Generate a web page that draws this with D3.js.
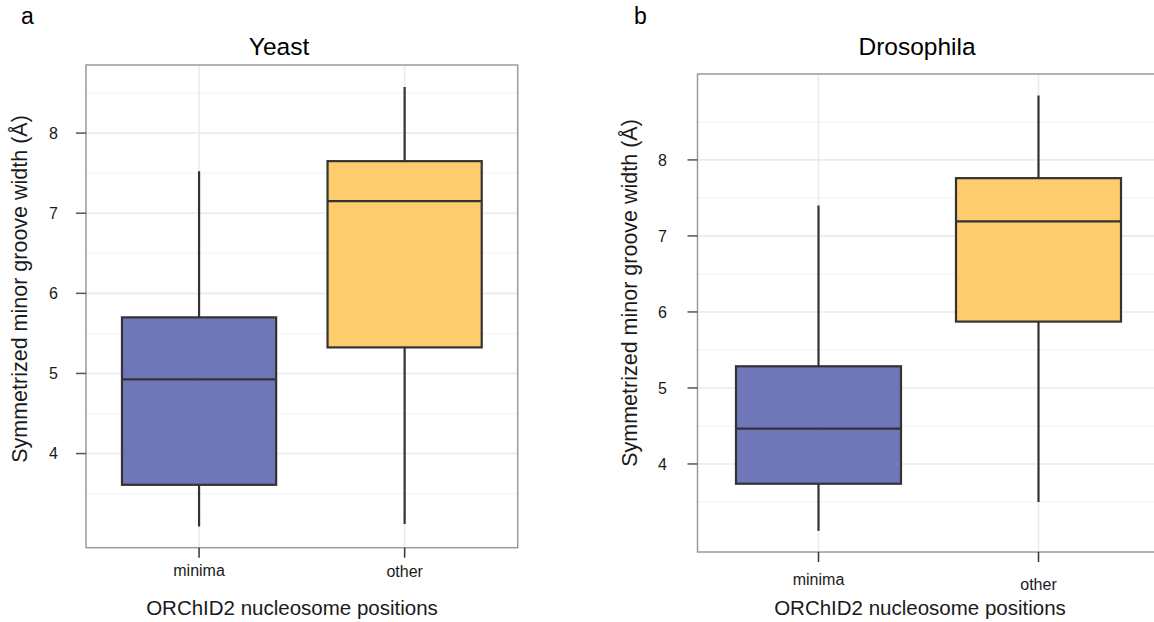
<!DOCTYPE html>
<html>
<head>
<meta charset="utf-8">
<script src="https://cdn.jsdelivr.net/npm/d3@7"></script>
<style>
  html, body { margin: 0; padding: 0; background: #fff; }
  svg { display: block; font-family: "Liberation Sans", Arial, Helvetica, sans-serif; }
</style>
</head>
<body>
<svg id="chart" width="1154" height="622"></svg>
<script>
// ---- data ----
const categories = ["minima", "other"];
const yTicks = [4, 5, 6, 7, 8];
const panelLetters = ["a", "b"];
const panelTitles = ["Yeast", "Drosophila"];
const xAxisTitle = "ORChID2 nucleosome positions";
const yAxisTitle = "Symmetrized minor groove width (Å)";
// box stats: [lower whisker, Q1, median, Q3, upper whisker]
const yeastMinima = [3.09, 3.61, 4.925, 5.70, 7.525];
const yeastOther = [3.12, 5.325, 7.15, 7.65, 8.575];
const drosMinima = [3.12, 3.74, 4.465, 5.285, 7.40];
const drosOther = [3.50, 5.873, 7.19, 7.76, 8.846];
const fills = ["#6770b4", "#fdc964"];

const panels = [
  { letter: panelLetters[0], title: panelTitles[0], stats: [yeastMinima, yeastOther],
    left: 86, right: 517.7, top: 65, bottom: 547.7, ydom: [2.825, 8.85],
    titleX: 279, letterX: 21, yTitleX: 27, yTitleY: 289, xTitleX: 292, xTitleY: 615,
    tickLabelRight: 58, xLabelY: [576, 577] },
  { letter: panelLetters[1], title: panelTitles[1], stats: [drosMinima, drosOther],
    left: 697.5, right: 1159.5, top: 74, bottom: 552, ydom: [2.842, 9.13],
    titleX: 917, letterX: 634, yTitleX: 637, yTitleY: 293, xTitleX: 920, xTitleY: 615,
    tickLabelRight: 667, xLabelY: [585, 590] }
];

const svg = d3.select("#chart");

panels.forEach(p => {
  const g = svg.append("g");
  const x = d3.scalePoint().domain(categories).range([p.left, p.right]).padding(0.55);
  const y = d3.scaleLinear().domain(p.ydom).range([p.bottom, p.top]);
  const step = x.step();
  const bw = step * 0.75;

  const clipId = "clip-" + p.letter;
  svg.append("clipPath").attr("id", clipId).append("rect")
    .attr("x", p.left).attr("y", p.top).attr("width", p.right - p.left).attr("height", p.bottom - p.top);

  const inner = g.append("g").attr("clip-path", `url(#${clipId})`);

  // minor grid
  const minor = d3.range(Math.ceil(p.ydom[0] * 2) / 2, p.ydom[1], 0.5).filter(v => Math.abs(v % 1) > 0.01);
  inner.selectAll(".minor").data(minor).join("line")
    .attr("x1", p.left).attr("x2", p.right)
    .attr("y1", d => y(d)).attr("y2", d => y(d))
    .attr("stroke", "#f6f6f6").attr("stroke-width", 1.5);
  // major grid
  inner.selectAll(".major").data(yTicks).join("line")
    .attr("x1", p.left).attr("x2", p.right)
    .attr("y1", d => y(d)).attr("y2", d => y(d))
    .attr("stroke", "#ebebeb").attr("stroke-width", 1.6);
  inner.selectAll(".vgrid").data(categories).join("line")
    .attr("x1", d => x(d)).attr("x2", d => x(d))
    .attr("y1", p.top).attr("y2", p.bottom)
    .attr("stroke", "#ebebeb").attr("stroke-width", 1.6);

  // boxes
  categories.forEach((c, i) => {
    const s = p.stats[i];
    const cx = x(c);
    inner.append("line").attr("x1", cx).attr("x2", cx)
      .attr("y1", y(s[3])).attr("y2", y(s[4]))
      .attr("stroke", "#333").attr("stroke-width", 2.2);
    inner.append("line").attr("x1", cx).attr("x2", cx)
      .attr("y1", y(s[0])).attr("y2", y(s[1]))
      .attr("stroke", "#333").attr("stroke-width", 2.2);
    inner.append("rect")
      .attr("x", cx - bw / 2).attr("width", bw)
      .attr("y", y(s[3])).attr("height", y(s[1]) - y(s[3]))
      .attr("fill", fills[i]).attr("fill-opacity", 0.95)
      .attr("stroke", "#333").attr("stroke-width", 2.2);
    inner.append("line").attr("x1", cx - bw / 2).attr("x2", cx + bw / 2)
      .attr("y1", y(s[2])).attr("y2", y(s[2]))
      .attr("stroke", "#333").attr("stroke-width", 2.2);
  });

  // panel border
  g.append("rect").attr("x", p.left).attr("y", p.top)
    .attr("width", p.right - p.left).attr("height", p.bottom - p.top)
    .attr("fill", "none").attr("stroke", "#9a9a9a").attr("stroke-width", 1.5);

  // y axis ticks
  g.selectAll(".yt").data(yTicks).join("line")
    .attr("x1", p.left - 10).attr("x2", p.left)
    .attr("y1", d => y(d)).attr("y2", d => y(d))
    .attr("stroke", "#555").attr("stroke-width", 1.5);
  g.selectAll(".yl").data(yTicks).join("text")
    .attr("x", p.tickLabelRight).attr("y", d => y(d))
    .attr("dy", "0.36em").attr("text-anchor", "end")
    .attr("font-size", 16).attr("fill", "#1a1a1a")
    .text(d => d);

  // x axis ticks
  g.selectAll(".xt").data(categories).join("line")
    .attr("x1", d => x(d)).attr("x2", d => x(d))
    .attr("y1", p.bottom).attr("y2", p.bottom + 10)
    .attr("stroke", "#333").attr("stroke-width", 1.5);
  g.selectAll(".xl").data(categories).join("text")
    .attr("x", d => x(d)).attr("y", (d, i) => p.xLabelY[i])
    .attr("text-anchor", "middle").attr("font-size", 16).attr("fill", "#1a1a1a")
    .text(d => d);

  // titles
  g.append("text").attr("x", p.titleX).attr("y", 55).attr("text-anchor", "middle")
    .attr("font-size", 24.5).attr("fill", "#000").text(p.title);
  g.append("text").attr("x", p.letterX).attr("y", 24)
    .attr("font-size", 23).attr("fill", "#000").text(p.letter);
  g.append("text").attr("x", p.xTitleX).attr("y", p.xTitleY).attr("text-anchor", "middle")
    .attr("font-size", 20.5).attr("fill", "#1a1a1a").text(xAxisTitle);
  g.append("text").attr("transform", `translate(${p.yTitleX},${p.yTitleY}) rotate(-90)`)
    .attr("text-anchor", "middle").attr("font-size", 21.5).attr("fill", "#1a1a1a").text(yAxisTitle);
});
</script>
</body>
</html>
